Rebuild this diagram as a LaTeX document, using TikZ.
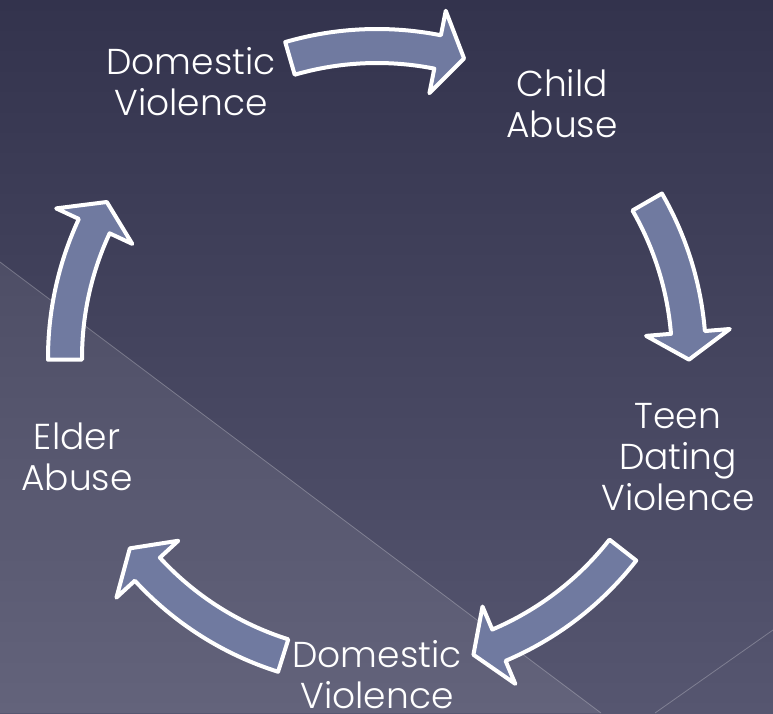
\documentclass[tikz,border=0pt]{standalone}
\usepackage{fontspec}
\setmainfont{Poppins Light}

\definecolor{slidetop}{RGB}{51,51,77}
\definecolor{slidebottom}{RGB}{86,86,112}
\definecolor{arrowfill}{RGB}{112,122,160}

\tikzset{
    cycle text/.style={text=white, align=center, font=\fontsize{36}{41}\selectfont},
    cycle arrow/.style={fill=arrowfill, draw=white, line width=4pt, line join=round},
}

\begin{document}
\begin{tikzpicture}[x=1pt, y=1pt]
    % Background
    \shade[top color=slidetop, bottom color=slidebottom] (0,0) rectangle (773,713);
    \useasboundingbox (0,0) rectangle (773,713);

    % lighter wedge and thin lines
    \fill[white, opacity=0.08] (0,451) -- (601,0) -- (0,0) -- cycle;
    \draw[white, opacity=0.25, line width=0.8pt] (0,451) -- (601,0);
    \draw[white, opacity=0.25, line width=0.8pt] (773,83) -- (655,0);

    % centre of the cycle
    \coordinate (hub) at (377,355);

    % Arrows (tail angle / tip angle)
    \foreach \tailang/\tipang in {106.2/73.8, 30/-0.3, -38/-72, 252.5/217.6, 180.3/150} {
        \pgfmathsetmacro{\neckang}{\tipang+5}
        \draw[cycle arrow, shift={(hub)}] (\tailang:329) arc[start angle=\tailang, end angle=\neckang, radius=329pt]
            -- (\neckang:354) -- (\tipang:312) -- (\neckang:270) -- (\neckang:295)
            arc[start angle=\neckang, end angle=\tailang, radius=295pt] -- cycle;
    }

    % Labels
    \node (domestic) at (191,631) [cycle text] {Domestic\\Violence};
    \node (child) at (562,609) [cycle text] {Child\\Abuse};
    \node (teen) at (678,256) [cycle text] {Teen\\Dating\\Violence};
    \node (dating) at (377,38) [cycle text] {Domestic\\Violence};
    \node (elder) at (77,256) [cycle text] {Elder\\Abuse};

\end{tikzpicture}
\end{document}
